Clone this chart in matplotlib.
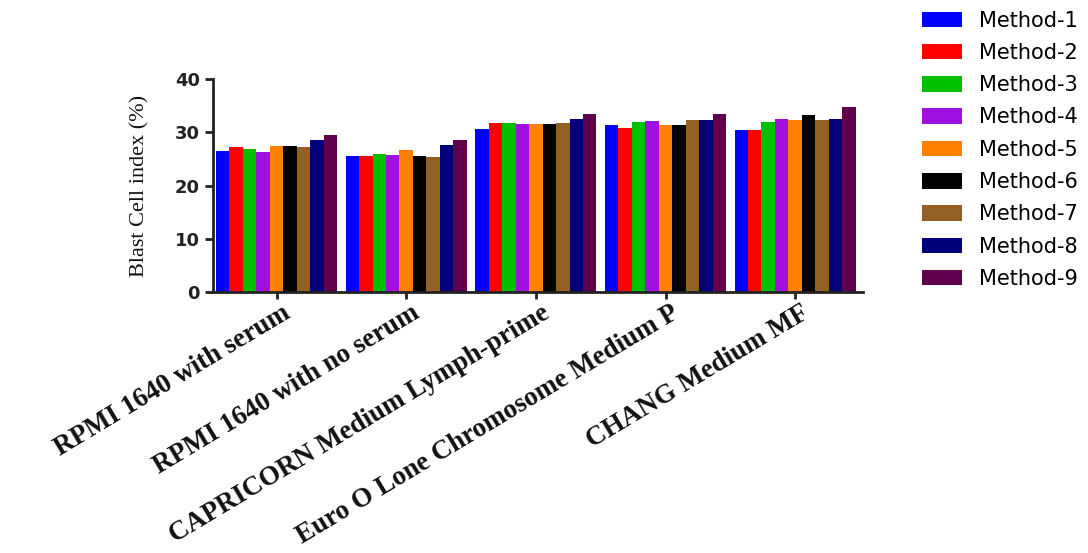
import numpy as np
import matplotlib
matplotlib.use("Agg")
from matplotlib import pyplot as plt
from matplotlib.transforms import ScaledTranslation

# media (x categories)
media = ["RPMI 1640 with serum", "RPMI 1640 with no serum",
         "CAPRICORN Medium Lymph-prime", "Euro O Lone Chromosome Medium P",
         "CHANG Medium MF"]

methods = ["Method-1", "Method-2", "Method-3", "Method-4", "Method-5",
           "Method-6", "Method-7", "Method-8", "Method-9"]

# blast cell index (%) per method, one value per medium
method_1 = [26.5, 25.5, 30.6, 31.4, 30.5]
method_2 = [27.3, 25.6, 31.8, 30.8, 30.5]
method_3 = [26.9, 26.0, 31.8, 32.0, 32.0]
method_4 = [26.3, 25.8, 31.5, 32.1, 32.5]
method_5 = [27.5, 26.6, 31.5, 31.4, 32.4]
method_6 = [27.4, 25.5, 31.5, 31.4, 33.3]
method_7 = [27.2, 25.4, 31.8, 32.4, 32.4]
method_8 = [28.5, 27.6, 32.5, 32.3, 32.5]
method_9 = [29.5, 28.6, 33.5, 33.5, 34.7]

values = [method_1, method_2, method_3, method_4, method_5,
          method_6, method_7, method_8, method_9]

colors = ["#0000ff", "#ff0000", "#00c000", "#a010e0", "#ff8000",
          "#000000", "#916022", "#00007a", "#60004c"]


def main():
    fig = plt.figure(figsize=(10.88, 5.53), dpi=100)
    ax = fig.add_axes([0.1958, 0.472, 0.597, 0.385])

    x = np.arange(len(media))
    width = 0.935 / len(methods)
    for i, (name, vals) in enumerate(zip(methods, values)):
        ax.bar(x + (i - 4) * width, vals, width, color=colors[i], label=name,
               linewidth=0)

    ax.set_xlim(-0.49, 4.52)
    ax.set_ylim(0, 40)
    ax.set_yticks([0, 10, 20, 30, 40])

    # axis styling
    for side in ["top", "right"]:
        ax.spines[side].set_visible(False)
    for side in ["left", "bottom"]:
        ax.spines[side].set_linewidth(2)
        ax.spines[side].set_color("#222222")
    ax.tick_params(axis="y", width=2, length=6, colors="#222222")
    ax.tick_params(axis="x", width=2, length=5, colors="#222222", pad=1)

    for lab in ax.get_yticklabels():
        lab.set_fontfamily("DejaVu Sans")
        lab.set_fontweight("bold")
        lab.set_fontsize(13)

    ax.set_xticks(x)
    ax.set_xticklabels(media, rotation=31, ha="right", va="top",
                       rotation_mode="anchor", fontfamily="Liberation Serif",
                       fontweight="bold", fontsize=19.5, color="#111111")
    shift = ScaledTranslation(0.05, 0.0, fig.dpi_scale_trans)
    for lab in ax.get_xticklabels():
        lab.set_transform(lab.get_transform() + shift)

    ax.set_ylabel("Blast Cell index (%)", fontfamily="Liberation Serif",
                  fontsize=16, labelpad=18, color="#111111")

    fig.legend(loc="upper left", bbox_to_anchor=(0.8396, 0.996), frameon=False,
               prop={"family": "DejaVu Sans", "size": 15},
               handlelength=1.92, handleheight=0.77, labelspacing=0.59,
               handletextpad=0.82, borderaxespad=0)

    fig.savefig("out.png", dpi=100)


if __name__ == "__main__":
    main()
